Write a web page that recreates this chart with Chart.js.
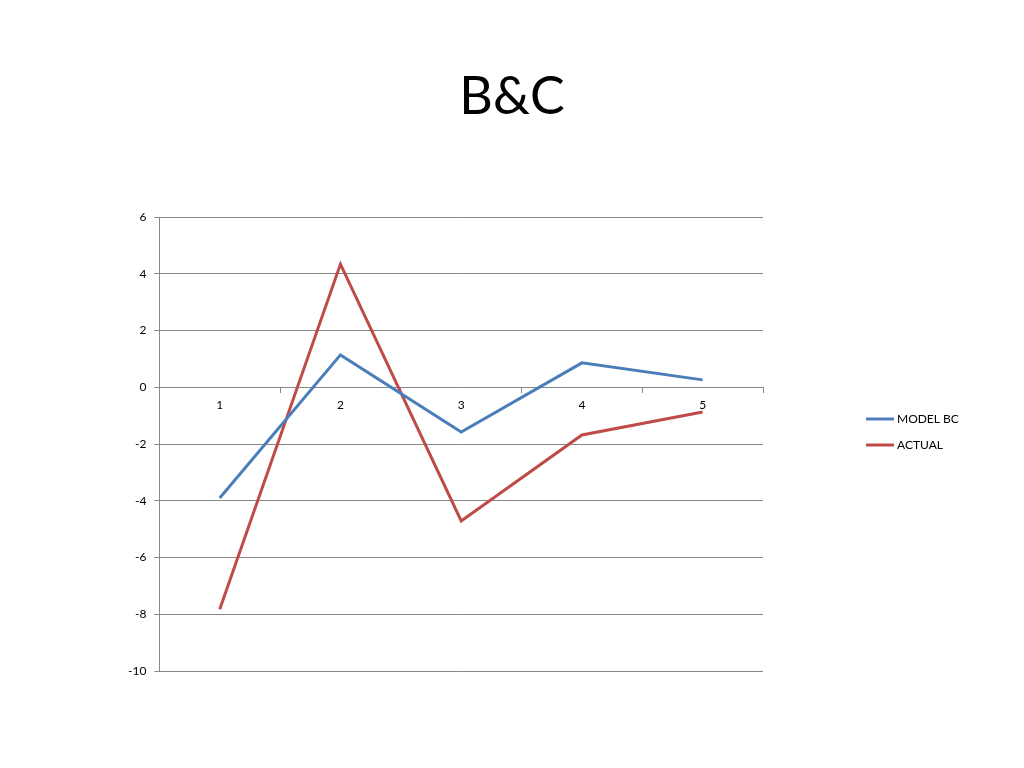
<!DOCTYPE html>
<html>
<head>
<meta charset="utf-8">
<script src="https://cdn.jsdelivr.net/npm/chart.js@4.4.0/dist/chart.umd.min.js"></script>
<style>
  body { margin: 0; background: #fff; }
  #wrap { width: 1024px; height: 768px; }
</style>
</head>
<body>
<div id="wrap"><canvas id="c" width="1024" height="768"></canvas></div>
<script>
var categories = ['1', '2', '3', '4', '5'];
var modelBC = [-3.9, 1.14, -1.58, 0.86, 0.26];
var actual = [-7.82, 4.34, -4.71, -1.68, -0.87];
var yTicks = [-10, -8, -6, -4, -2, 0, 2, 4, 6];
var chartTitle = 'B&C';

var font = 'Lato, "Liberation Sans", sans-serif';
Chart.defaults.font.family = font;
Chart.defaults.color = '#000';

// title centred on the page and legend well right of the plot, like the original
var extras = {
  id: 'extras',
  afterDraw: function (chart) {
    var c = chart.ctx, a = chart.chartArea;
    c.save();
    c.fillStyle = '#000';
    c.font = '52px ' + font;
    c.textAlign = 'center';
    c.textBaseline = 'middle';
    c.fillText(chartTitle, chart.width / 2, 97);
    c.restore();

    var x = a.right + 103, y = a.top + 202;
    chart.data.datasets.forEach(function (ds, i) {
      var yy = y + i * 26;
      c.save();
      c.strokeStyle = ds.borderColor;
      c.lineWidth = 3;
      c.beginPath();
      c.moveTo(x, yy);
      c.lineTo(x + 28, yy);
      c.stroke();
      c.fillStyle = '#000';
      c.font = '12px ' + font;
      c.textBaseline = 'middle';
      c.fillText(ds.label, x + 31, yy);
      c.restore();
    });
  }
};

var ctx = document.getElementById('c').getContext('2d');
var myChart = new Chart(ctx, {
  type: 'line',
  data: {
    labels: categories,
    datasets: [{
      label: 'MODEL BC',
      data: modelBC,
      borderColor: '#4A7EBB',
      backgroundColor: '#4A7EBB',
      borderWidth: 3,
      pointRadius: 0,
      tension: 0
    },
    {
      label: 'ACTUAL',
      data: actual,
      borderColor: '#BE4B48',
      backgroundColor: '#BE4B48',
      borderWidth: 3,
      pointRadius: 0,
      tension: 0
    }]
  },
  options: {
    responsive: false,
    animation: false,
    layout: { padding: { left: 120, right: 261, top: 217, bottom: 97 } },
    plugins: {
      legend: { display: false },
      tooltip: { enabled: false },
      title: { display: false }
    },
    scales: {
      x: {
        position: { y: 0 },
        offset: true,
        grid: { offset: true, drawOnChartArea: false, tickLength: 5, color: '#868686' },
        border: { color: '#868686' },
        ticks: { font: { size: 12 }, padding: 6, maxRotation: 0 }
      },
      y: {
        min: -10,
        max: 6,
        afterBuildTicks: function (s) { s.ticks = yTicks.map(function (v) { return { value: v }; }); },
        grid: { color: '#868686', tickLength: 5 },
        border: { color: '#868686' },
        ticks: { font: { size: 12 }, padding: 8 }
      }
    }
  },
  plugins: [extras]
});
</script>
</body>
</html>
